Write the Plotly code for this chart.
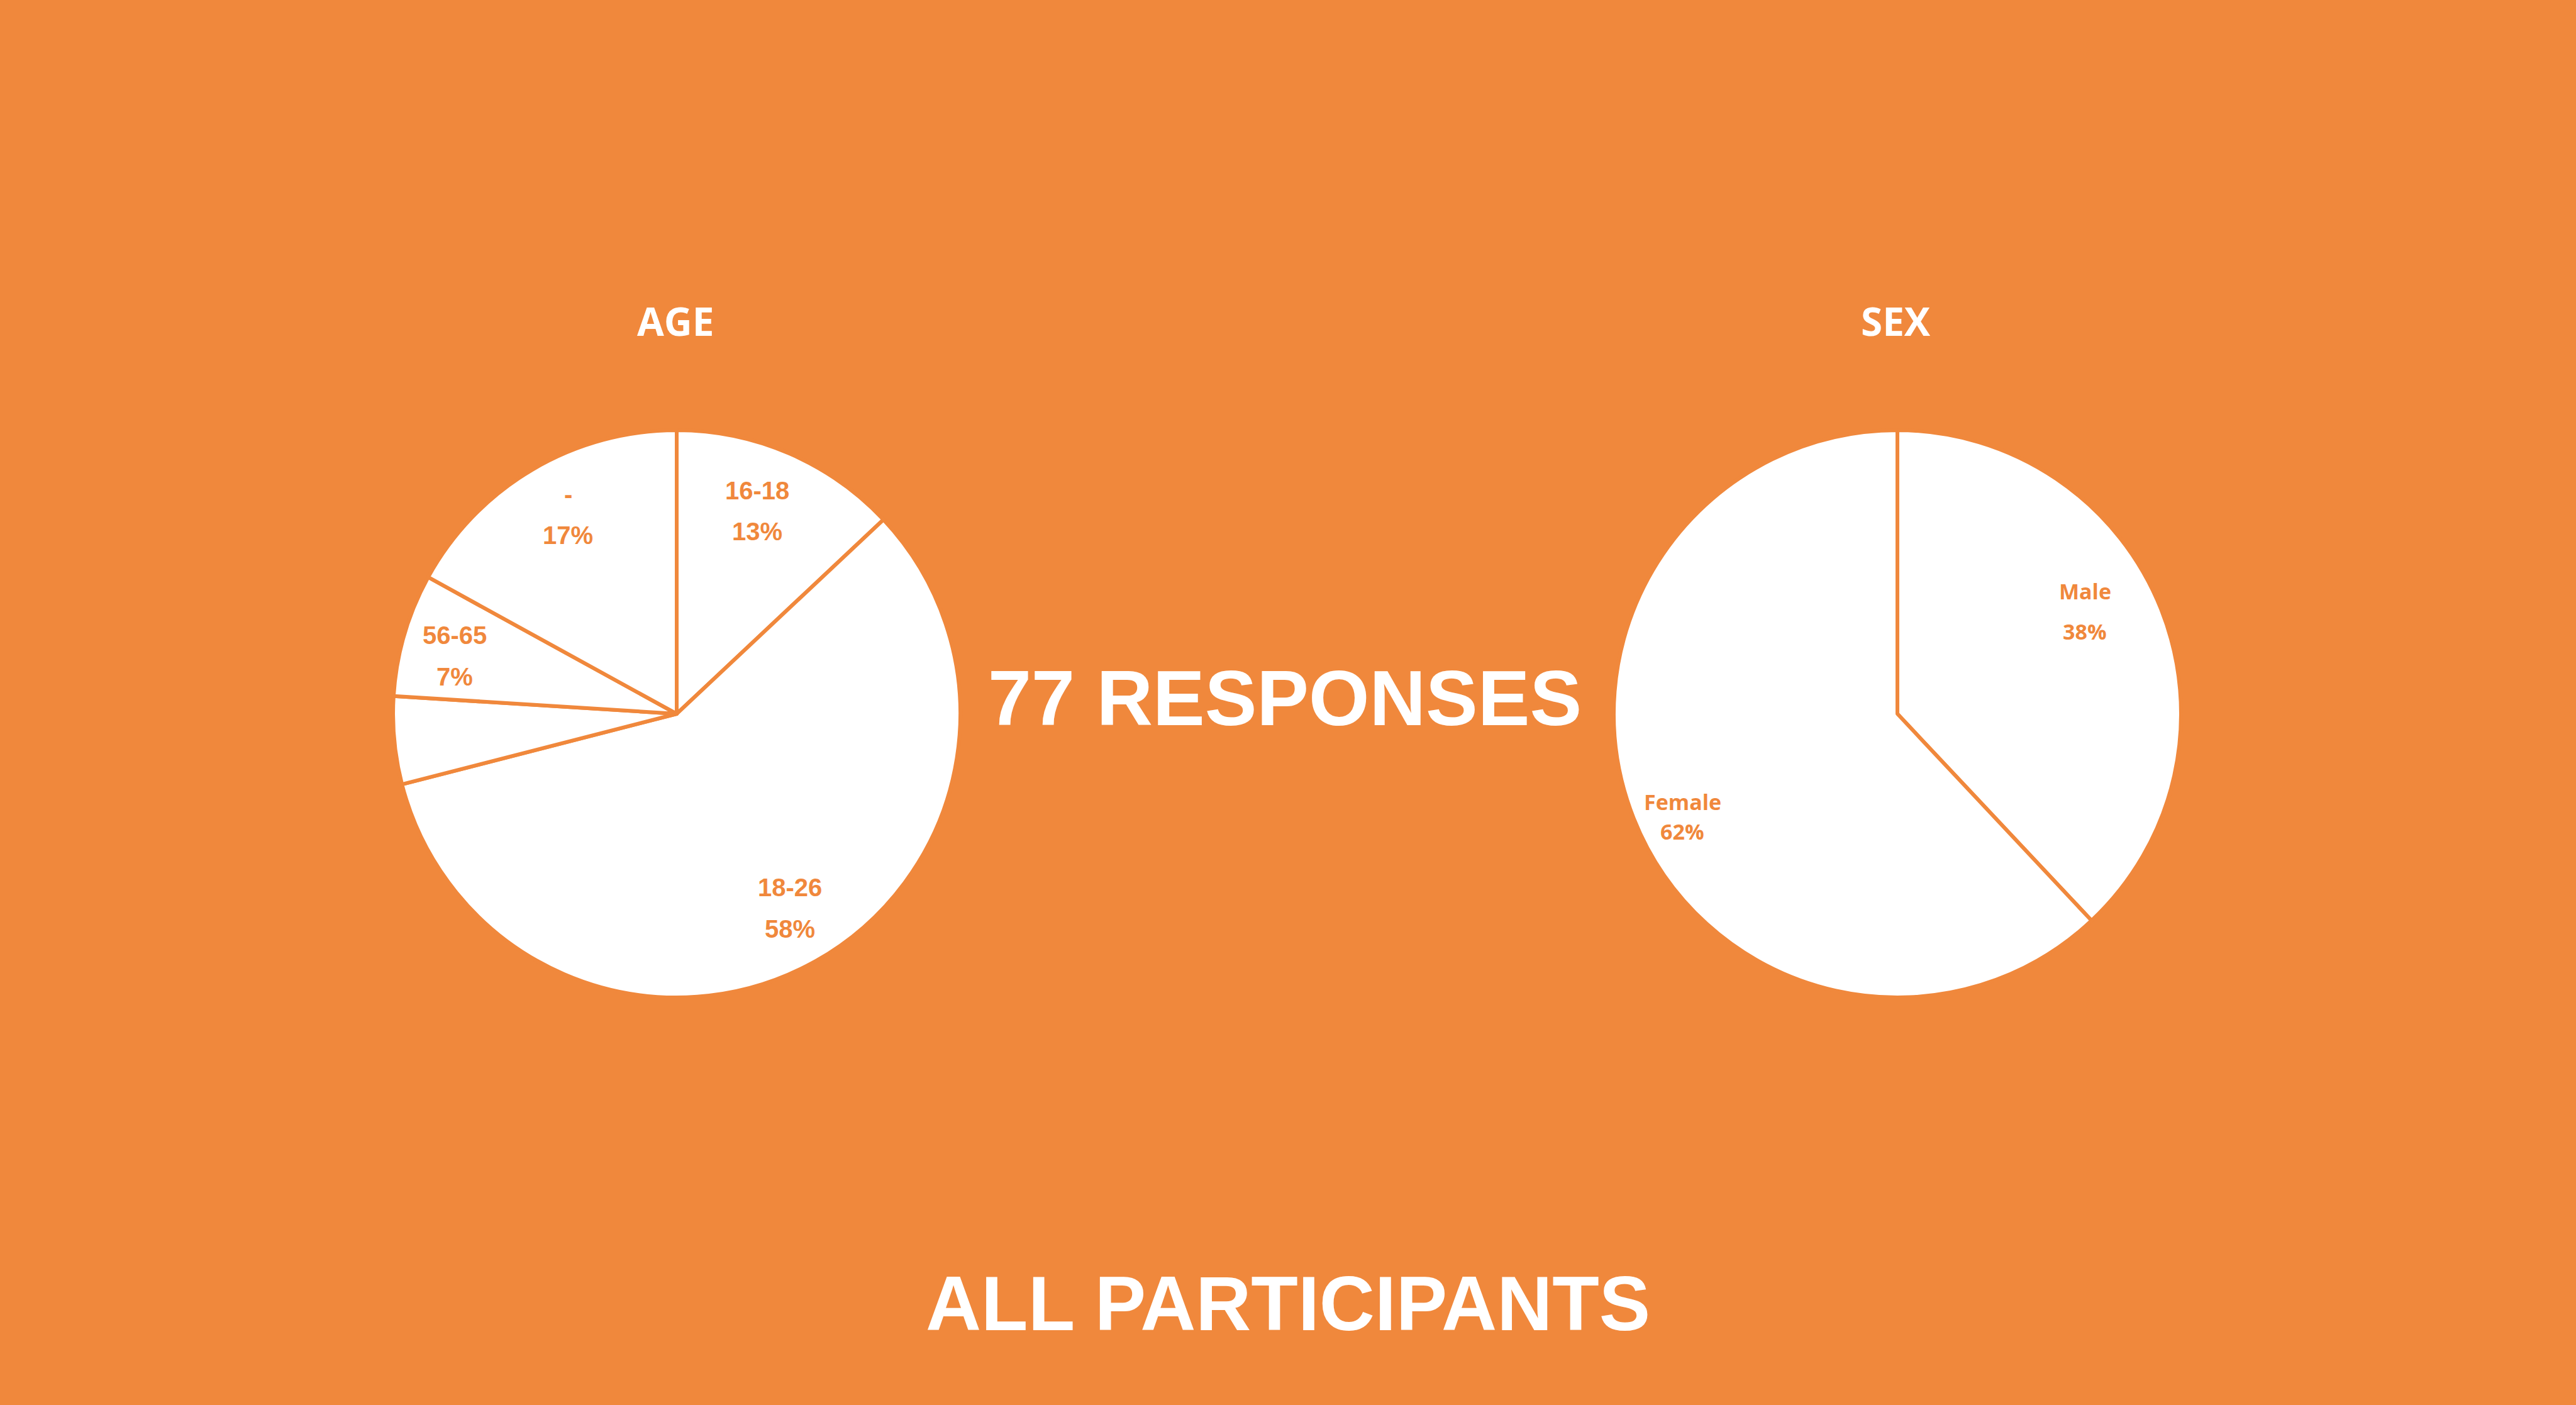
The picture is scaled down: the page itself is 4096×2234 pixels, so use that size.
import plotly.graph_objects as go

# ---- data ----
age_labels = ["16-18", "18-26", "27-55", "56-65", "-"]
age_values = [13, 58, 5, 7, 17]
age_show = [True, True, False, True, True]

sex_labels = ["Male", "Female"]
sex_values = [38, 62]

title_left = "AGE"
title_right = "SEX"
center_text = "77 RESPONSES"
bottom_text = "ALL PARTICIPANTS"

# ---- style / layout ----
W, H = 4096, 2234
ORANGE = "#F0883C"
WHITE = "#FFFFFF"

def px(x):
    return x / W

def py(y):
    return 1 - y / H

R = 451
age_c = (1076, 1135)
sex_c = (3017, 1135)

def dom(c):
    return dict(x=[px(c[0] - R), px(c[0] + R)], y=[py(c[1] + R), py(c[1] - R)])

fig = go.Figure()
fig.add_trace(go.Pie(
    labels=age_labels, values=age_values, sort=False, direction="clockwise",
    rotation=0, textinfo="none", hoverinfo="label+percent",
    marker=dict(colors=[WHITE] * len(age_values), line=dict(color=ORANGE, width=6)),
    domain=dom(age_c), showlegend=False,
))
fig.add_trace(go.Pie(
    labels=sex_labels, values=sex_values, sort=False, direction="clockwise",
    rotation=0, textinfo="none", hoverinfo="label+percent",
    marker=dict(colors=[WHITE] * len(sex_values), line=dict(color=ORANGE, width=6)),
    domain=dom(sex_c), showlegend=False,
))

# label positions (pixels in the window): (x, y_name, y_pct)
age_pos = {"16-18": (1204, 780, 845), "18-26": (1256, 1411, 1477),
           "56-65": (723, 1010, 1076), "-": (903, 786, 851)}
sex_pos = {"Male": (3315, 940, 1004), "Female": (2675, 1275, 1322)}

ann = []
age_font = dict(family="Liberation Sans, Arial, sans-serif", size=40, color=ORANGE)
for lab, val, show in zip(age_labels, age_values, age_show):
    if not show:
        continue
    x, y1, y2 = age_pos[lab]
    ann.append(dict(text=f"<b>{lab}</b>", x=px(x), y=py(y1), xref="paper", yref="paper",
                    showarrow=False, font=age_font, xanchor="center", yanchor="middle"))
    ann.append(dict(text=f"<b>{val}%</b>", x=px(x), y=py(y2), xref="paper", yref="paper",
                    showarrow=False, font=age_font, xanchor="center", yanchor="middle"))

sex_font = dict(family="Open Sans, sans-serif", size=34, color=ORANGE)
for lab, val in zip(sex_labels, sex_values):
    x, y1, y2 = sex_pos[lab]
    ann.append(dict(text=f"<b>{lab}</b>", x=px(x), y=py(y1), xref="paper", yref="paper",
                    showarrow=False, font=sex_font, xanchor="center", yanchor="middle"))
    ann.append(dict(text=f"<b>{val}%</b>", x=px(x), y=py(y2), xref="paper", yref="paper",
                    showarrow=False, font=sex_font, xanchor="center", yanchor="middle"))

title_font = dict(family="Open Sans, sans-serif", size=62, color=WHITE)
ann.append(dict(text=f"<b>{title_left}</b>", x=px(1074), y=py(510), xref="paper", yref="paper",
                showarrow=False, font=title_font, xanchor="center", yanchor="middle"))
ann.append(dict(text=f"<b>{title_right}</b>", x=px(3014), y=py(510), xref="paper", yref="paper",
                showarrow=False, font=title_font, xanchor="center", yanchor="middle"))

big_font = dict(family="Liberation Sans, Arial, sans-serif", size=124, color=WHITE)
ann.append(dict(text=f"<b>{center_text}</b>", x=px(2043), y=py(1110), xref="paper", yref="paper",
                showarrow=False, font=big_font, xanchor="center", yanchor="middle"))
big_font2 = dict(family="Liberation Sans, Arial, sans-serif", size=122, color=WHITE)
ann.append(dict(text=f"<b>{bottom_text}</b>", x=px(2048), y=py(2073), xref="paper", yref="paper",
                showarrow=False, font=big_font2, xanchor="center", yanchor="middle"))

fig.update_layout(
    width=W, height=H, margin=dict(l=0, r=0, t=0, b=0),
    paper_bgcolor=ORANGE, plot_bgcolor=ORANGE,
    annotations=ann, showlegend=False,
)

fig.write_html("out.html", config={"displayModeBar": False})
